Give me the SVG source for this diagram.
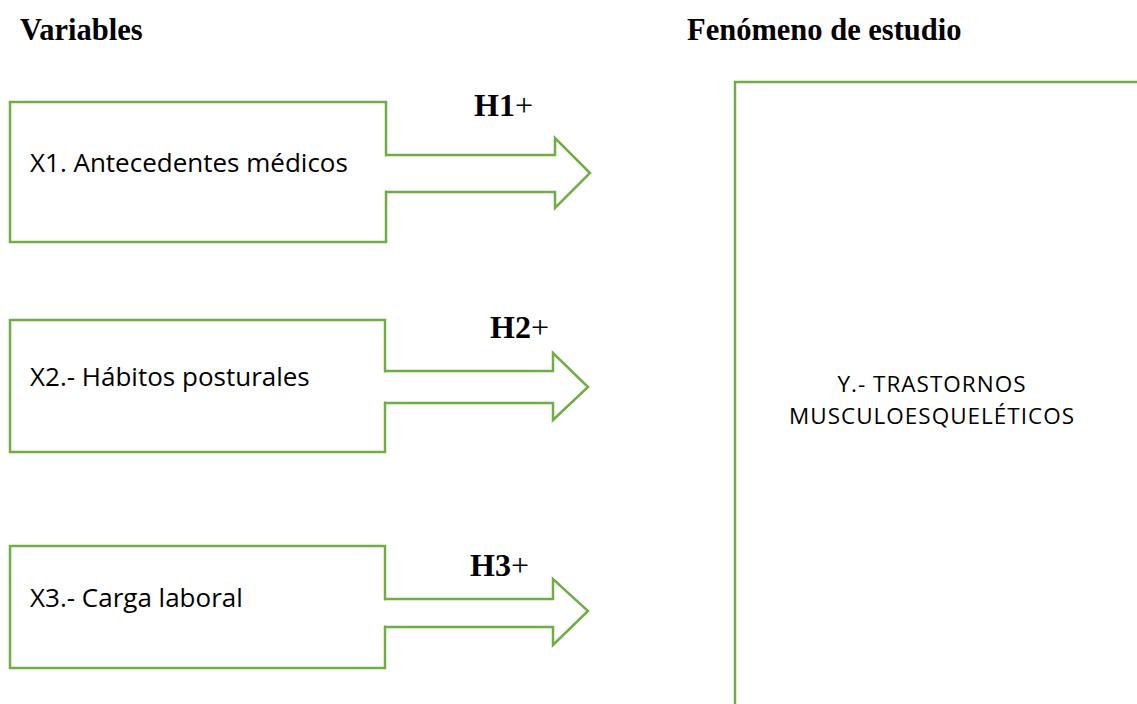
<svg xmlns="http://www.w3.org/2000/svg" width="1137" height="704" viewBox="0 0 1137 704">
<style>
.title{font-family:"Liberation Serif",serif;font-weight:bold;font-size:30.5px;fill:#000}
.h{font-family:"Liberation Serif",serif;font-weight:bold;font-size:32px;fill:#000}
.plus{font-weight:normal}
.lbl{font-family:"Open Sans","Liberation Sans",sans-serif;font-size:26px;fill:#000}
.ylbl{font-family:"Open Sans","Liberation Sans",sans-serif;font-size:22.5px;letter-spacing:1px;fill:#000}
.shape{fill:#fff;stroke:#70AD47;stroke-width:2.5;stroke-linejoin:miter}
</style>
<rect width="1137" height="704" fill="#fff"/>
<text class="title" x="20" y="40">Variables</text>
<text class="title" x="687" y="40">Fenómeno de estudio</text>
<g id="connectors">
<path class="shape" d="M386,155 H555 V138 L590,173 L555,208 V192 H386"/>
<path class="shape" d="M385,371 H553 V353 L588,387 L553,420 V403 H385"/>
<path class="shape" d="M385,599 H553 V579 L588,611 L553,645 V627 H385"/>
</g>
<g id="x1">
<rect class="shape" x="10" y="102" width="376" height="140"/>
<line x1="386" y1="156.5" x2="386" y2="190.5" stroke="#fff" stroke-width="4"/>
<text class="lbl" x="30" y="172">X1. Antecedentes médicos</text>
</g>
<g id="x2">
<rect class="shape" x="10" y="320" width="375" height="132"/>
<line x1="385" y1="372.5" x2="385" y2="401.5" stroke="#fff" stroke-width="4"/>
<text class="lbl" x="30" y="386">X2.- Hábitos posturales</text>
</g>
<g id="x3">
<rect class="shape" x="10" y="546" width="375" height="122"/>
<line x1="385" y1="600.5" x2="385" y2="625.5" stroke="#fff" stroke-width="4"/>
<text class="lbl" x="30" y="607">X3.- Carga laboral</text>
</g>
<g id="labels">
<text class="h" x="474" y="116">H1<tspan class="plus">+</tspan></text>
<text class="h" x="490" y="338">H2<tspan class="plus">+</tspan></text>
<text class="h" x="470" y="576">H3<tspan class="plus">+</tspan></text>
</g>
<g id="y">
<path class="shape" d="M1140,82 H735 V710"/>
<text class="ylbl" x="932" y="392" text-anchor="middle">Y.- TRASTORNOS</text>
<text class="ylbl" x="932" y="424" text-anchor="middle">MUSCULOESQUELÉTICOS</text>
</g>
</svg>
